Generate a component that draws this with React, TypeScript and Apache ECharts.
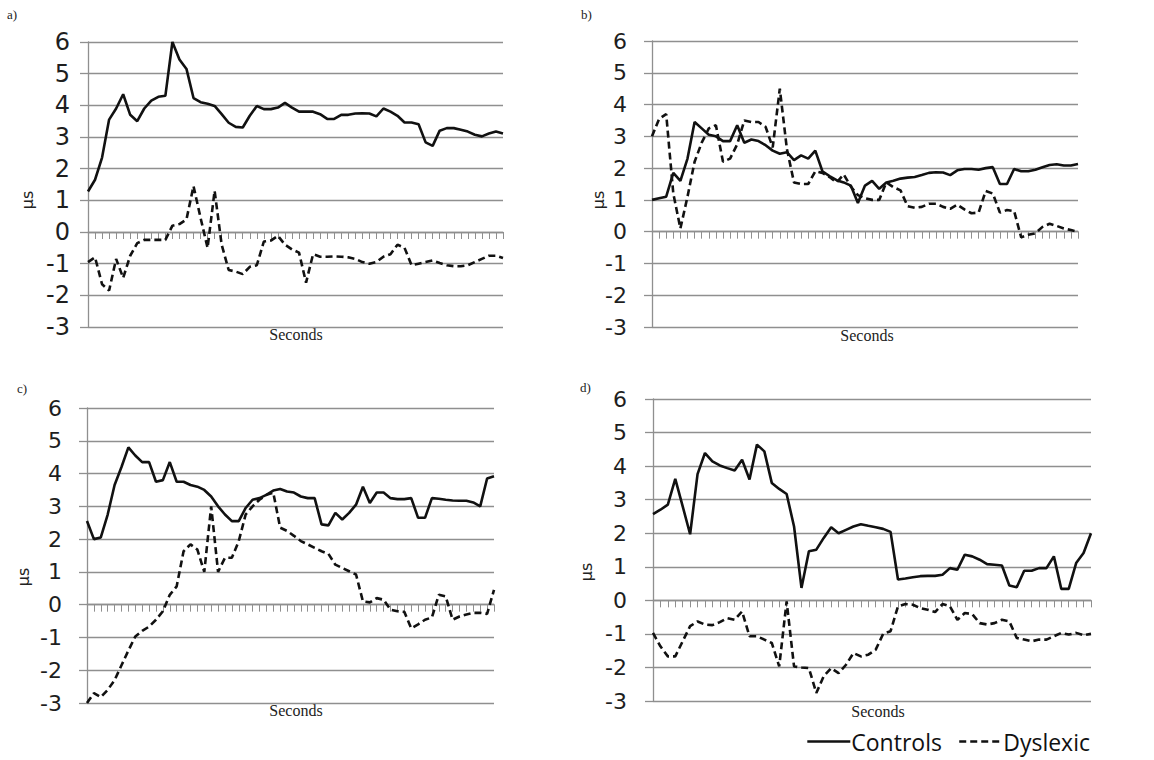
import React, { useEffect, useRef } from "react";
import * as echarts from "echarts";

// Panel a)
const controlsA = [1.28,1.65,2.35,3.55,3.9,4.35,3.7,3.5,3.9,4.15,4.27,4.3,6.0,5.45,5.15,4.23,4.1,4.05,3.98,3.72,3.45,3.32,3.3,3.67,3.98,3.88,3.88,3.93,4.08,3.93,3.8,3.8,3.8,3.72,3.57,3.57,3.7,3.7,3.74,3.75,3.74,3.65,3.9,3.8,3.67,3.46,3.46,3.4,2.83,2.72,3.2,3.28,3.28,3.23,3.17,3.07,3.02,3.11,3.17,3.11];
const dyslexicA = [-0.95,-0.8,-1.65,-1.85,-0.85,-1.45,-0.75,-0.35,-0.25,-0.25,-0.25,-0.25,0.2,0.25,0.4,1.45,0.45,-0.5,1.3,-0.4,-1.2,-1.25,-1.33,-1.1,-1.05,-0.3,-0.27,-0.12,-0.4,-0.55,-0.65,-1.6,-0.7,-0.78,-0.78,-0.77,-0.78,-0.8,-0.85,-0.95,-1.0,-0.95,-0.78,-0.7,-0.4,-0.5,-1.05,-1.0,-0.95,-0.9,-0.98,-1.05,-1.08,-1.08,-1.05,-0.95,-0.85,-0.75,-0.75,-0.82];

// Panel b)
const controlsB = [1.0,1.05,1.1,1.85,1.6,2.3,3.45,3.25,3.05,3.0,2.85,2.85,3.35,2.8,2.9,2.85,2.72,2.55,2.45,2.5,2.25,2.4,2.3,2.55,1.9,1.75,1.62,1.55,1.45,0.9,1.45,1.6,1.35,1.55,1.6,1.67,1.7,1.72,1.78,1.85,1.87,1.86,1.78,1.93,1.97,1.97,1.95,2.0,2.03,1.5,1.5,1.97,1.9,1.9,1.95,2.03,2.1,2.12,2.08,2.08,2.13];
const dyslexicB = [3.0,3.55,3.7,1.2,0.1,1.1,2.2,2.8,3.25,3.35,2.2,2.3,2.75,3.5,3.45,3.45,3.3,2.65,4.5,2.6,1.55,1.5,1.5,1.9,1.85,1.72,1.55,1.8,1.42,1.15,1.05,1.0,1.0,1.55,1.4,1.3,0.8,0.75,0.78,0.88,0.88,0.78,0.72,0.85,0.7,0.58,0.6,1.28,1.2,0.6,0.68,0.65,-0.18,-0.1,-0.05,0.15,0.25,0.18,0.1,0.05,0.0];

// Panel c)
const controlsC = [2.55,2.0,2.05,2.75,3.65,4.2,4.8,4.55,4.35,4.35,3.75,3.8,4.35,3.75,3.75,3.65,3.6,3.5,3.3,3.0,2.75,2.55,2.55,2.95,3.2,3.25,3.35,3.48,3.53,3.45,3.42,3.3,3.25,3.25,2.45,2.42,2.8,2.6,2.8,3.05,3.6,3.1,3.42,3.42,3.25,3.22,3.22,3.25,2.65,2.65,3.25,3.23,3.2,3.18,3.17,3.17,3.12,3.0,3.85,3.92];
const dyslexicC = [-3.0,-2.7,-2.82,-2.6,-2.3,-1.85,-1.4,-0.97,-0.8,-0.67,-0.46,-0.2,0.3,0.56,1.63,1.84,1.68,1.0,3.0,1.0,1.43,1.43,1.94,2.75,3.0,3.2,3.35,3.42,2.35,2.25,2.1,1.94,1.84,1.73,1.63,1.55,1.22,1.12,1.02,0.92,0.1,0.07,0.2,0.15,-0.15,-0.2,-0.22,-0.72,-0.6,-0.46,-0.39,0.3,0.25,-0.46,-0.36,-0.3,-0.25,-0.25,-0.28,0.45];

// Panel d)
const controlsD = [2.57,2.7,2.85,3.62,2.8,1.97,3.76,4.39,4.14,4.02,3.94,3.87,4.19,3.6,4.64,4.44,3.5,3.32,3.17,2.2,0.37,1.46,1.51,1.86,2.18,2.0,2.1,2.2,2.27,2.22,2.18,2.13,2.04,0.62,0.65,0.69,0.72,0.73,0.73,0.76,0.96,0.91,1.36,1.31,1.21,1.08,1.06,1.04,0.44,0.39,0.88,0.88,0.96,0.96,1.31,0.34,0.34,1.11,1.41,2.0];
const dyslexicD = [-0.97,-1.37,-1.67,-1.67,-1.22,-0.77,-0.63,-0.72,-0.74,-0.65,-0.53,-0.58,-0.33,-1.07,-1.07,-1.17,-1.27,-1.97,-0.03,-1.97,-2.0,-2.02,-2.76,-2.26,-2.02,-2.17,-1.92,-1.57,-1.67,-1.62,-1.47,-1.0,-0.92,-0.18,-0.11,-0.13,-0.23,-0.28,-0.35,-0.11,-0.18,-0.58,-0.38,-0.41,-0.68,-0.72,-0.68,-0.58,-0.63,-1.12,-1.17,-1.22,-1.17,-1.17,-1.07,-0.97,-1.02,-0.97,-1.04,-1.0];

const panelLabels = ["a)", "b)", "c)", "d)"];
const seriesNames = ["Controls", "Dyslexic"];
const yMin = -3;
const yMax = 6;
const yInterval = 1;
const xName = "Seconds";
const yName = "µs";

const panels = [
  { c: controlsA, d: dyslexicA, grid: { left: 88, top: 42, width: 415, height: 285 }, fs: 24, margin: 18, tag: [7, 8], yn: [27, 200], xn: [296, 334] },
  { c: controlsB, d: dyslexicB, grid: { left: 652, top: 41, width: 426, height: 286 }, fs: 22, margin: 25, tag: [581, 8], yn: [598, 200], xn: [867, 335] },
  { c: controlsC, d: dyslexicC, grid: { left: 87, top: 408, width: 407, height: 295 }, fs: 22, margin: 25, tag: [17, 382], yn: [23, 577], xn: [296, 710] },
  { c: controlsD, d: dyslexicD, grid: { left: 653, top: 399, width: 438, height: 302 }, fs: 22, margin: 26, tag: [580, 381], yn: [586, 572], xn: [878, 711] },
];

const GRAY = "#8f8f8f";
const INK = "#111111";

export default function App() {
  const ref = useRef<HTMLDivElement>(null);
  useEffect(() => {
    if (!ref.current) return;
    const chart = echarts.init(ref.current, undefined, { renderer: "svg" });
    const grid: any[] = [];
    const xAxis: any[] = [];
    const yAxis: any[] = [];
    const series: any[] = [];
    const graphic: any[] = [];
    panels.forEach((p, i) => {
      grid.push({ ...p.grid, containLabel: false });
      const cats = p.c.map((_, k) => String(k + 1));
      xAxis.push({
        type: "category",
        gridIndex: i,
        data: cats,
        boundaryGap: false,
        axisLine: { onZero: true, lineStyle: { color: GRAY, width: 1.3 } },
        axisTick: { show: true, interval: 0, length: 7, lineStyle: { color: GRAY, width: 1 } },
        axisLabel: { show: false },
        splitLine: { show: false },
      });
      yAxis.push({
        type: "value",
        gridIndex: i,
        min: yMin,
        max: yMax,
        interval: yInterval,
        axisLine: { show: true, onZero: false, lineStyle: { color: GRAY, width: 1.3 } },
        axisTick: { show: true, length: 8, lineStyle: { color: GRAY, width: 1.3 } },
        axisLabel: { fontSize: p.fs, fontFamily: "DejaVu Sans", color: "#1e1e1e", margin: p.margin },
        splitLine: { show: true, lineStyle: { color: GRAY, width: 1.3 } },
      });
      series.push({
        name: seriesNames[0],
        type: "line",
        xAxisIndex: i,
        yAxisIndex: i,
        data: p.c,
        symbol: "none",
        showSymbol: false,
        lineStyle: { color: INK, width: 2.6, type: "solid" },
        itemStyle: { color: INK },
      });
      series.push({
        name: seriesNames[1],
        type: "line",
        xAxisIndex: i,
        yAxisIndex: i,
        data: p.d,
        symbol: "none",
        showSymbol: false,
        lineStyle: { color: INK, width: 2.6, type: [7, 4] },
        itemStyle: { color: INK },
      });
      graphic.push({
        type: "text",
        x: p.tag[0],
        y: p.tag[1],
        style: { text: panelLabels[i], font: "13px 'Liberation Serif'", fill: "#222" },
      });
      graphic.push({
        type: "text",
        x: p.yn[0],
        y: p.yn[1],
        rotation: Math.PI / 2,
        style: { text: yName, font: "16px 'DejaVu Sans'", fill: "#222", textAlign: "center", textVerticalAlign: "middle" },
      });
      graphic.push({
        type: "text",
        x: p.xn[0],
        y: p.xn[1],
        style: { text: xName, font: "16px 'Liberation Serif'", fill: "#222", textAlign: "center", textVerticalAlign: "middle" },
      });
    });

    chart.setOption({
      animation: false,
      backgroundColor: "#ffffff",
      grid,
      xAxis,
      yAxis,
      series,
      graphic,
      legend: {
        data: seriesNames,
        left: 806,
        top: 730,
        padding: 0,
        itemWidth: 43,
        itemHeight: 14,
        itemGap: 16,
        selectedMode: false,
        itemStyle: { opacity: 0 },
        lineStyle: { color: INK, width: 2.6 },
        textStyle: { fontSize: 23, fontFamily: "Open Sans", color: INK, padding: [0, 0, 0, -4] },
      },
    });
    return () => chart.dispose();
  }, []);
  return (
    <div
      ref={ref}
      style={{ position: "fixed", left: 0, top: 0, width: 1154, height: 760, background: "#fff" }}
    />
  );
}
